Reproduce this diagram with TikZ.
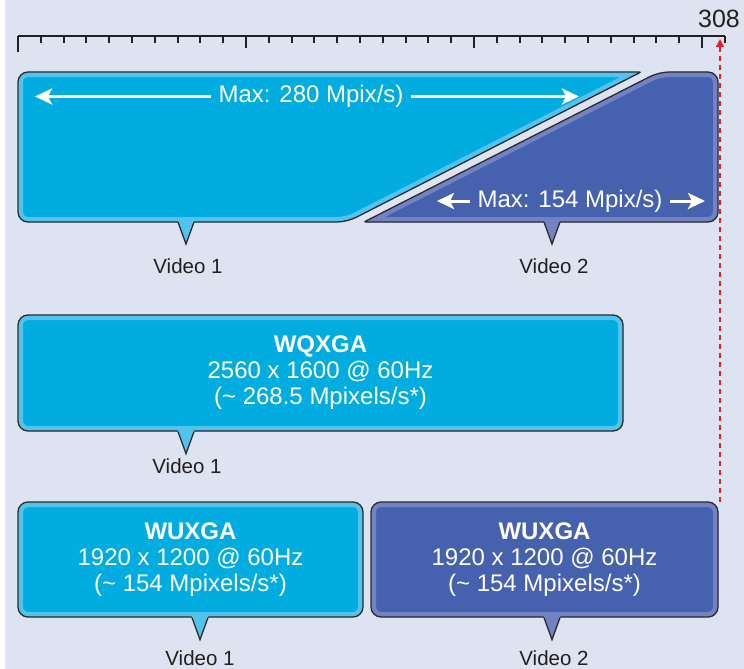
\documentclass[tikz,border=0pt]{standalone}
\usepackage{fontspec}
\setmainfont{Liberation Sans}
\usetikzlibrary{arrows.meta,calc}

\definecolor{bgc}{RGB}{222,227,241}
\definecolor{ink}{RGB}{35,31,32}
\definecolor{edgec}{RGB}{43,43,45}
\definecolor{vcyan}{RGB}{0,172,224}
\definecolor{vcyanlt}{RGB}{82,195,236}
\definecolor{vblue}{RGB}{70,98,174}
\definecolor{vbluelt}{RGB}{115,130,195}
\definecolor{markred}{RGB}{232,32,42}

\newcommand{\boxfont}{\fontsize{24}{26}\selectfont}
\newcommand{\labfont}{\fontsize{20.5}{24}\selectfont}

% filled shape with a light inner rim
\newcommand{\panel}[3]{%
  \fill[#2] #1;
  \begin{scope}\clip #1; \draw[#3, line width=10] #1; \end{scope}
  \draw[edgeline] #1;}
% speech-bubble tail below a base point
\newcommand{\tail}[2]{%
  \fill[#2] ($(#1)+(-8,-2.5)$) -- ($(#1)+(-8,0)$) -- ($(#1)+(0,22)$) -- ($(#1)+(8,0)$) -- ($(#1)+(8,-2.5)$) -- cycle;
  \draw[edgeline] ($(#1)+(-8,0)$) -- ($(#1)+(0,22)$) -- ($(#1)+(8,0)$);}

\begin{document}
\begin{tikzpicture}[x=1pt, y=-1pt,
    edgeline/.style={draw=edgec, line width=1.3},
    rule/.style={ink, line width=2},
    box/.style={edgeline, rounded corners=10, minimum height=115, inner sep=0,
      align=center, text=white, font=\boxfont},
    cyanbox/.style={box, fill=vcyan, path picture={\draw[vcyanlt, line width=10, rounded corners=10]
      (path picture bounding box.south west) rectangle (path picture bounding box.north east);}},
    bluebox/.style={box, fill=vblue, path picture={\draw[vbluelt, line width=10, rounded corners=10]
      (path picture bounding box.south west) rectangle (path picture bounding box.north east);}},
    maxtext/.style={text=white, font=\boxfont, inner sep=7},
    maxarrow/.style={white, line width=3, -{Stealth[length=17pt, width=16pt, inset=4pt]}},
    lab/.style={text=ink, font=\labfont, anchor=base}]
  \useasboundingbox (0,0) rectangle (744,669);
  \fill[white] (0,0) rectangle (744,669);
  \fill[bgc] (5,0) rectangle (744,669);

  % scale
  \draw[rule] (18,36.5) -- (725,36.5);
  \foreach \k in {0,...,31}{
    \pgfmathsetmacro{\tl}{ifthenelse(\k==0,16,ifthenelse(mod(\k,10)==0,12,6.5))}
    \draw[rule] (18+22.8*\k,36.5) -- ++(0,\tl);
  }
  \node[text=ink, font=\fontsize{25}{28}\selectfont, anchor=base] (top) at (719,28) {308};
  \coordinate (marktip) at (720,39);
  \coordinate (markend) at (720,502);
  \draw[markred, line width=1.4, dash pattern=on 5pt off 4pt, -{Triangle[length=8pt, width=8pt]}] (markend) -- (marktip);

  % shared bandwidth
  \panel{(18,150) [rounded corners=10] -- (18,72) [rounded corners=2] -- (641,72) [rounded corners=10] -- (347,222) -- (18,222) -- cycle}{vcyan}{vcyanlt}
  \panel{(540,222) [rounded corners=2] -- (364,222) [rounded corners=10] -- (659,72) -- (718,72) -- (718,222) -- cycle}{vblue}{vbluelt}
  \tail{186,222}{vcyanlt}
  \tail{552,222}{vbluelt}

  \node[maxtext] (max1) at (311,96.5) {Max: 280 Mpix/s)};
  \coordinate (max1l) at (35,0 |- max1.west);
  \coordinate (max1r) at (579,0 |- max1.east);
  \draw[maxarrow] (max1.west) -- (max1l);
  \draw[maxarrow] (max1.east) -- (max1r);

  \node[maxtext] (max2) at (570,201) {Max: 154 Mpix/s)};
  \coordinate (max2l) at (437,0 |- max2.west);
  \coordinate (max2r) at (705,0 |- max2.east);
  \draw[maxarrow] (max2.west) -- (max2l);
  \draw[maxarrow] (max2.east) -- (max2r);

  \node[lab] (v1a) at (188,273) {Video 1};
  \node[lab] (v2a) at (554,273) {Video 2};

  % single stream
  \node[cyanbox, minimum width=605, minimum height=116] (wqxga) at (320.5,373)
    {\textbf{WQXGA}\\2560 x 1600 @ 60Hz\\(\textasciitilde{} 268.5 Mpixels/s*)};
  \tail{186,0 |- wqxga.south}{vcyanlt}
  \node[lab] (v1b) at (187,473) {Video 1};

  % two streams
  \node[cyanbox, minimum width=345] (wuxga1) at (190.5,559.5)
    {\textbf{WUXGA}\\1920 x 1200 @ 60Hz\\(\textasciitilde{} 154 Mpixels/s*)};
  \node[bluebox, minimum width=347] (wuxga2) at (544.5,559.5)
    {\textbf{WUXGA}\\1920 x 1200 @ 60Hz\\(\textasciitilde{} 154 Mpixels/s*)};
  \tail{200,0 |- wuxga1.south}{vcyanlt}
  \tail{552,0 |- wuxga2.south}{vbluelt}
  \node[lab] (v1c) at (200,665) {Video 1};
  \node[lab] (v2c) at (554,665) {Video 2};
\end{tikzpicture}
\end{document}
